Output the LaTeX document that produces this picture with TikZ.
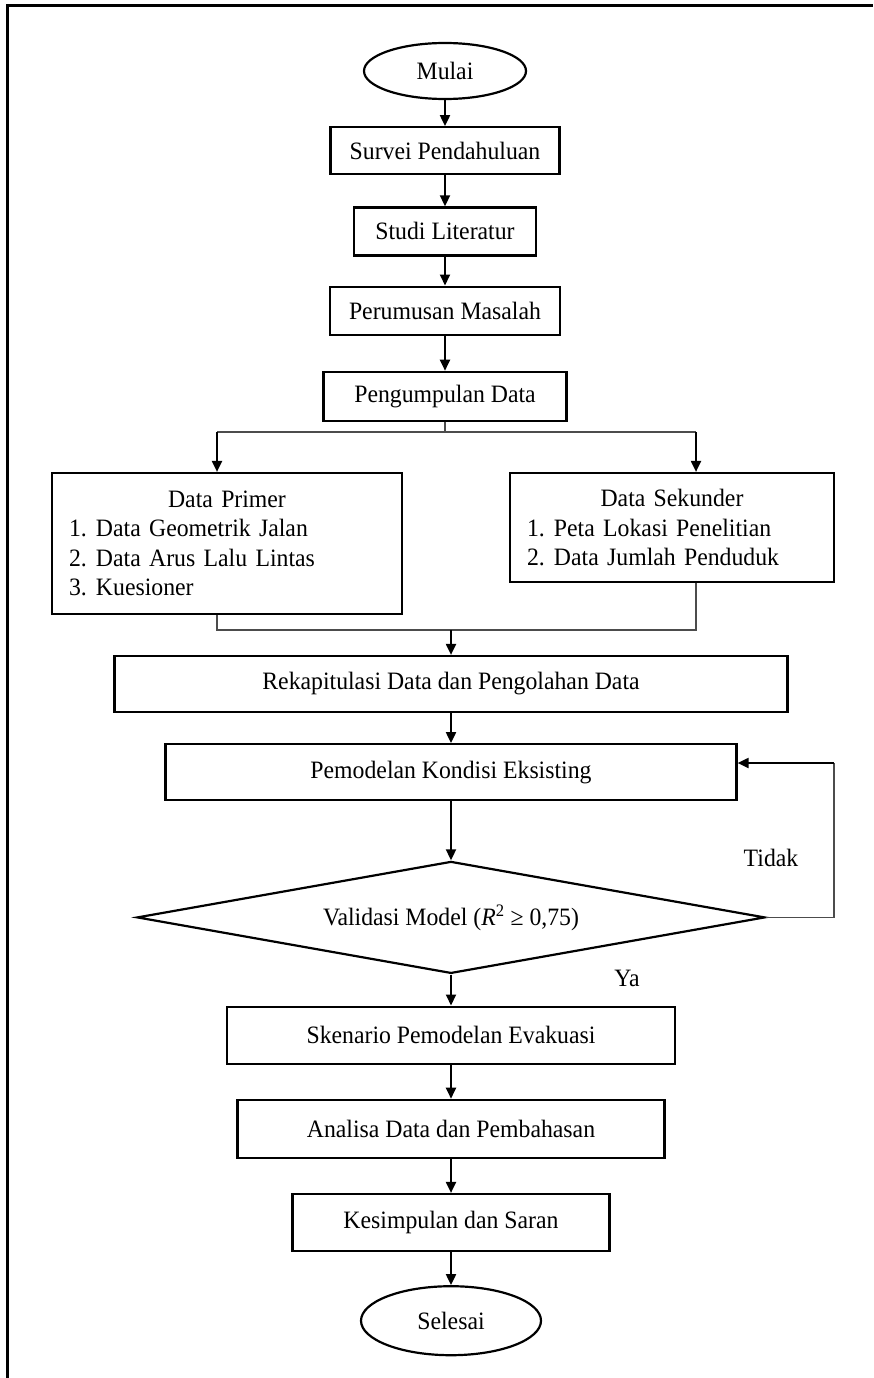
\documentclass[tikz,border=0pt]{standalone}
\usepackage{fontspec}
\setmainfont[FakeStretch=0.95]{Liberation Serif}
\usetikzlibrary{positioning, shapes.geometric, arrows.meta}

\newcommand{\listnum}[1]{\makebox[27pt][l]{#1}}

\tikzset{
  flowbox/.style={draw, line width=2.2pt, rectangle, inner sep=0pt},
  terminal/.style={draw, line width=2.2pt, ellipse, inner sep=0pt},
  decision/.style={draw, line width=2.2pt, diamond, aspect=5.6, inner sep=0pt,
    minimum width=628pt, minimum height=112pt},
  listbox/.style={draw, line width=2.2pt, rectangle, inner xsep=17pt, inner ysep=0pt},
  flowarrow/.style={line width=2pt, -{Triangle[width=10pt,length=11pt]}},
  joinline/.style={line width=1.3pt, draw=black!70},
}

\begin{document}
\begin{tikzpicture}[x=1pt, y=-1pt, font=\fontsize{25}{29.5}\selectfont]
  \useasboundingbox (0,0) rectangle (873,1378);
  \draw[line width=3pt] (7,1378) -- (7,6) -- (873,6);

  \node[terminal, minimum width=162pt, minimum height=56pt] (mulai) at (445,71) {Mulai};
  \node[flowbox, minimum width=229pt, minimum height=47pt, below=26pt of mulai] (survei) {Survei Pendahuluan};
  \node[flowbox, minimum width=182pt, minimum height=48pt, below=31pt of survei] (studi) {Studi Literatur};
  \node[flowbox, minimum width=230pt, minimum height=48pt, below=29pt of studi] (perumusan) {Perumusan Masalah};
  \node[flowbox, minimum width=243pt, minimum height=49pt, below=35pt of perumusan] (pengumpulan) {Pengumpulan Data};

  \node[listbox, text width=316pt, minimum height=141pt] (primer) at (227,543.5)
    {\centering Data Primer\par\raggedright
     \listnum{1.}Data Geometrik Jalan\par
     \listnum{2.}Data Arus Lalu Lintas\par
     \listnum{3.}Kuesioner};
  \node[listbox, text width=290pt, minimum height=109pt] (sekunder) at (672,527.5)
    {\centering Data Sekunder\par\raggedright
     \listnum{1.}Peta Lokasi Penelitian\par
     \listnum{2.}Data Jumlah Penduduk};

  \node[flowbox, minimum width=673pt, minimum height=56pt] (rekap) at (451,684) {Rekapitulasi Data dan Pengolahan Data};
  \node[flowbox, minimum width=571pt, minimum height=56pt, below=30pt of rekap] (pemodelan) {Pemodelan Kondisi Eksisting};
  \node[decision, below=59pt of pemodelan] (validasi) {Validasi Model (\textit{R}\textsuperscript{2} ≥ 0,75)};
  \node[flowbox, minimum width=448pt, minimum height=57pt, below=31pt of validasi] (skenario) {Skenario Pemodelan Evakuasi};
  \node[flowbox, minimum width=427pt, minimum height=58pt, below=34pt of skenario] (analisa) {Analisa Data dan Pembahasan};
  \node[flowbox, minimum width=317pt, minimum height=57pt, below=34pt of analisa] (kesimpulan) {Kesimpulan dan Saran};
  \node[terminal, minimum width=180pt, minimum height=69pt, below=33pt of kesimpulan] (selesai) {Selesai};

  \node (tidak) at (771,858) {Tidak};
  \node (ya) at (627,978) {Ya};

  \coordinate (splitL) at (217,432);
  \coordinate (splitR) at (696,432);
  \coordinate (joinL) at (217,630);
  \coordinate (joinR) at (696,630);
  \coordinate (loopT) at (834,763);

  \draw[flowarrow] (mulai) -- (survei);
  \draw[flowarrow] (survei) -- (studi);
  \draw[flowarrow] (studi) -- (perumusan);
  \draw[flowarrow] (perumusan) -- (pengumpulan);

  \draw[joinline] (pengumpulan.south) -- (pengumpulan.south |- splitL);
  \draw[joinline] (splitL) -- (splitR);
  \draw[flowarrow] (splitL) -- (primer.north -| splitL);
  \draw[flowarrow] (splitR) -- (sekunder.north -| splitR);

  \draw[joinline] (primer.south -| joinL) -- (joinL) -- (joinR) -- (sekunder.south -| joinR);
  \draw[flowarrow] (rekap.north |- joinL) -- (rekap.north);

  \draw[flowarrow] (rekap) -- (pemodelan);
  \draw[flowarrow] (pemodelan) -- (validasi);
  \draw[joinline] (validasi.east) -- (validasi.east -| loopT) -- (loopT);
  \draw[flowarrow] (loopT) -- (pemodelan.east |- loopT);

  \draw[flowarrow] (validasi) -- (skenario);
  \draw[flowarrow] (skenario) -- (analisa);
  \draw[flowarrow] (analisa) -- (kesimpulan);
  \draw[flowarrow] (kesimpulan) -- (selesai);
\end{tikzpicture}
\end{document}
